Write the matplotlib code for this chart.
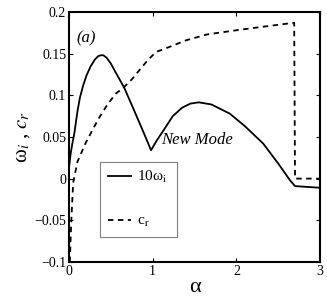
import matplotlib
matplotlib.use("Agg")
import matplotlib.pyplot as plt

plt.rcParams['font.family'] = ['Liberation Serif', 'DejaVu Serif']
plt.rcParams['mathtext.fontset'] = 'stix'

# solid curve: 10*omega_i
alpha_w = [0.0, 0.02, 0.04, 0.065, 0.1, 0.13, 0.17, 0.21, 0.26, 0.31, 0.35, 0.38, 0.41,
           0.45, 0.5, 0.56, 0.66, 0.76, 0.88, 0.98, 1.05, 1.13, 1.24, 1.35, 1.45, 1.55,
           1.7, 1.92, 2.1, 2.32, 2.5, 2.64, 2.70, 3.0]
omega_i = [0.013, 0.03, 0.042, 0.055, 0.08, 0.097, 0.112, 0.124, 0.135, 0.143, 0.147, 0.148, 0.148,
           0.145, 0.138, 0.127, 0.109, 0.086, 0.058, 0.034, 0.046, 0.058, 0.075, 0.085, 0.09, 0.0915,
           0.089, 0.078, 0.063, 0.042, 0.018, -0.002, -0.009, -0.011]

# dashed curve: c_r
alpha_c = [0.01, 0.02, 0.03, 0.05, 0.1, 0.2, 0.3, 0.36, 0.46, 0.56, 0.66,
           0.75, 0.84, 0.94, 1.04, 1.2, 1.4, 1.65, 2.0, 2.3, 2.69, 2.7, 3.0]
c_r = [-0.1, -0.07, -0.045, -0.005, 0.02, 0.043, 0.062, 0.073, 0.089, 0.102, 0.11,
       0.119, 0.13, 0.142, 0.152, 0.158, 0.166, 0.173, 0.178, 0.182, 0.187, 0.0, 0.0]

xticks = [0, 1, 2, 3]
yticks = [-0.1, -0.05, 0, 0.05, 0.1, 0.15, 0.2]
ytick_labels = ['\u22120.1', '\u22120.05', '0', '0.05', '0.1', '0.15', '0.2']

fig = plt.figure(figsize=(3.27, 2.98), dpi=100)
ax = fig.add_axes([0.211, 0.121, 0.768, 0.839])

ax.plot(alpha_w, omega_i, color='black', lw=1.3, label=r'10ω$_{\rm i}$')
ax.plot(alpha_c, c_r, color='black', lw=1.3, linestyle=(0, (3, 2.5)), label=r'c$_{\rm r}$')

ax.set_xlim(0, 3)
ax.set_ylim(-0.1, 0.2)
ax.set_xticks(xticks)
ax.set_xticklabels([str(t) for t in xticks])
ax.set_yticks(yticks)
ax.set_yticklabels(ytick_labels)
ax.tick_params(direction='in', top=True, right=True, labelsize=10, length=3, pad=2)
for s in ax.spines.values():
    s.set_linewidth(1.5)

ax.set_xlabel('α', fontsize=16, labelpad=0)
ax.set_ylabel(r'ω$_i$ , $c_r$', fontsize=15, labelpad=2)

ax.text(0.2, 0.168, '(a)', fontsize=12, style='italic', ha='center', va='center')
ax.text(1.1, 0.046, 'New Mode', fontsize=12, style='italic', ha='left', va='center')

leg = ax.legend(loc='lower left', bbox_to_anchor=(0.124, 0.10, 0.306, 0.30), mode='expand',
                fancybox=False, edgecolor='#808080', framealpha=1, fontsize=11,
                handlelength=1.5, handletextpad=0.4, labelspacing=1.9, borderpad=0.5,
                borderaxespad=0)
leg.get_frame().set_linewidth(0.8)

fig.savefig('out.png', dpi=100)
